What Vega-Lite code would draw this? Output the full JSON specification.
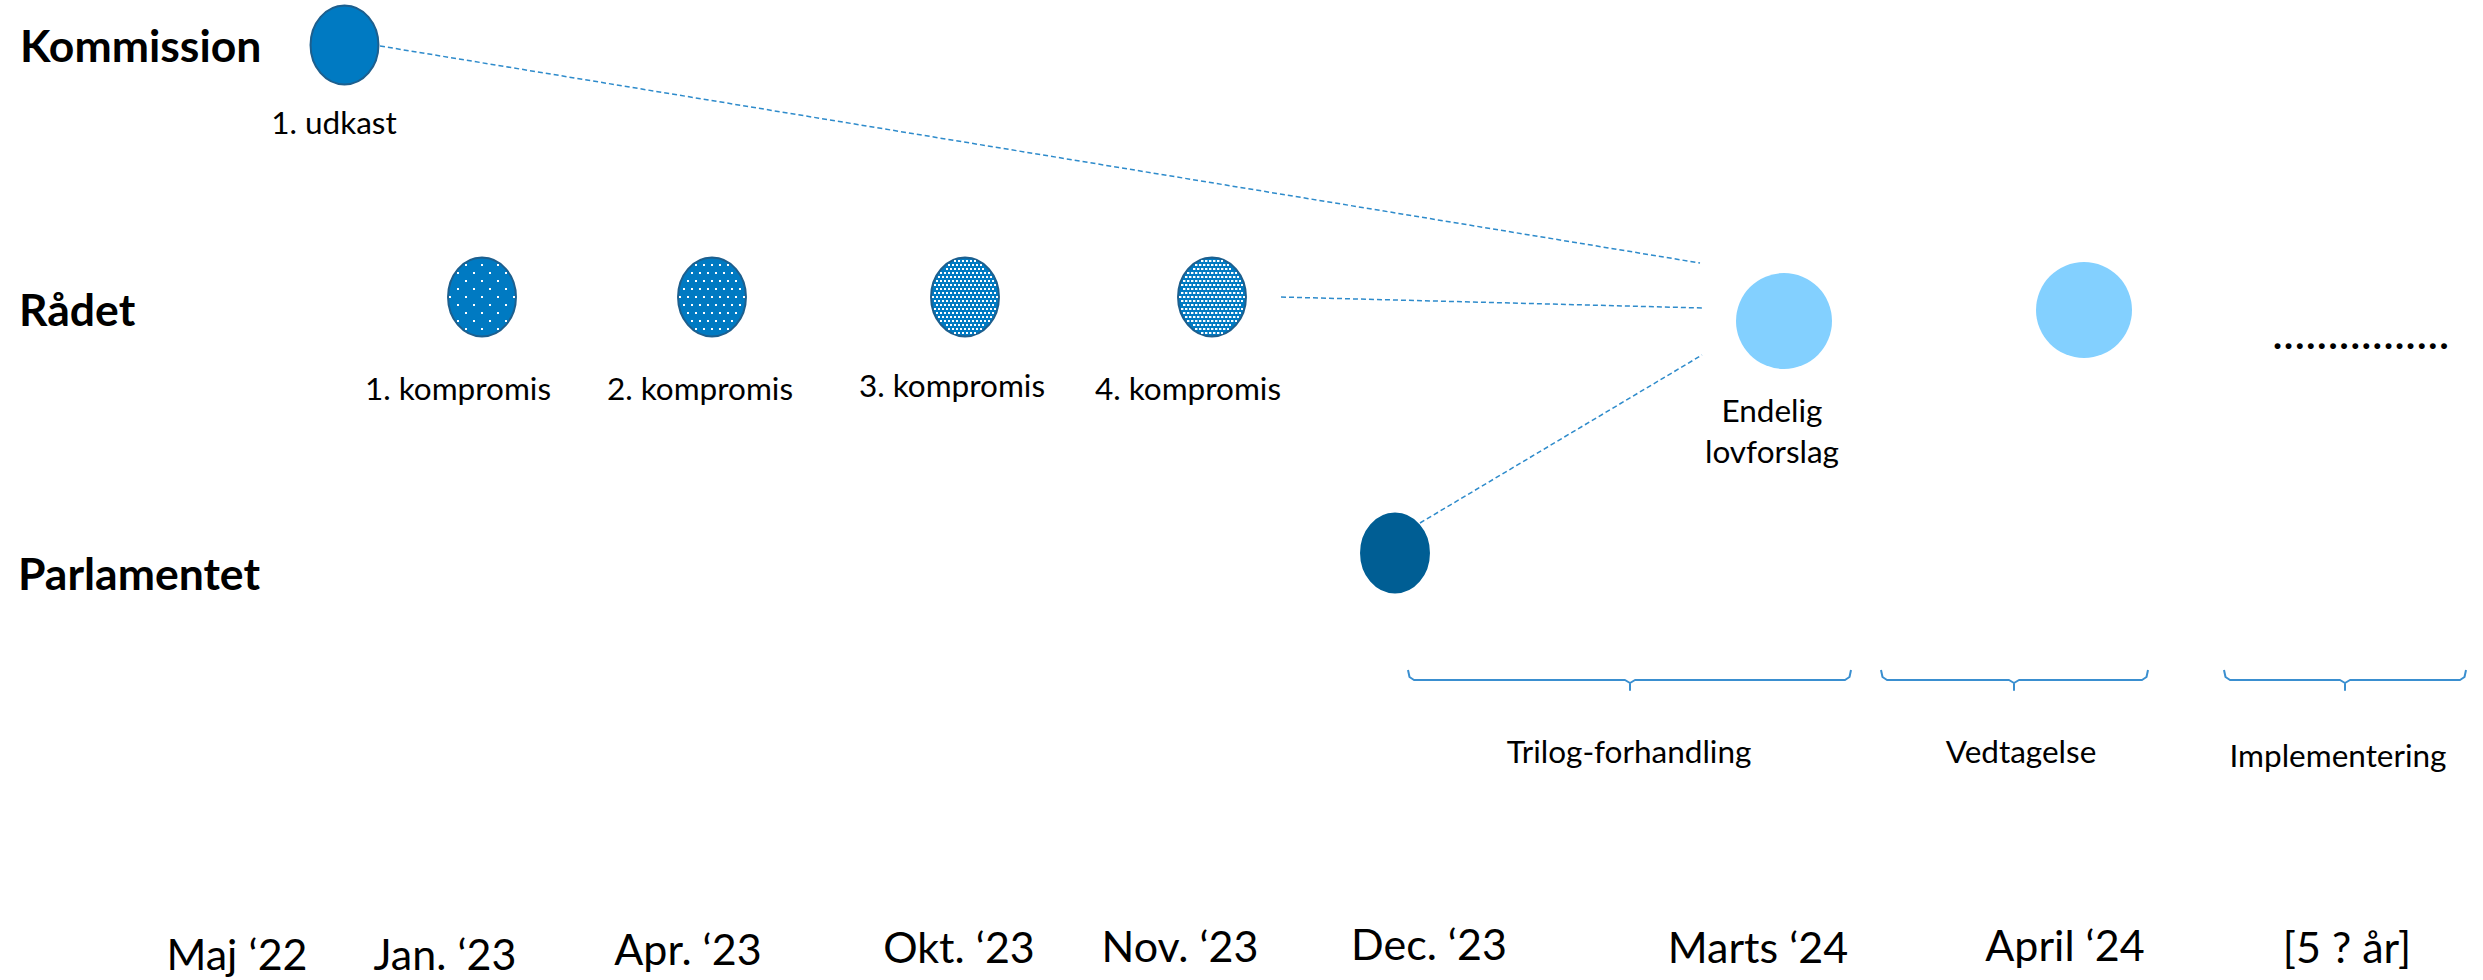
{
  "$schema": "https://vega.github.io/schema/vega-lite/v6.json",
  "width": 2483,
  "height": 980,
  "autosize": "none",
  "padding": 0,
  "background": "white",
  "config": {"view": {"stroke": null}},
  "layer": [
    {
      "data": {"values": [
        {"x": 380, "y": 46, "x2": 1700, "y2": 263},
        {"x": 1281, "y": 297, "x2": 1702, "y2": 308},
        {"x": 1420, "y": 523, "x2": 1702, "y2": 355}
      ]},
      "mark": {"type": "rule", "color": "#2E8BCB", "strokeWidth": 1.5, "strokeDash": [5, 3]},
      "encoding": {
        "x": {"field": "x", "type": "quantitative", "scale": {"domain": [0, 2483], "nice": false, "zero": false}, "axis": null},
        "y": {"field": "y", "type": "quantitative", "scale": {"domain": [0, 980], "nice": false, "zero": false, "reverse": true}, "axis": null},
        "x2": {"field": "x2"},
        "y2": {"field": "y2"}
      }
    },
    {
      "data": {"values": [
        {"b": 1, "i": 1, "x": 1408, "y": 670}, {"b": 1, "i": 2, "x": 1409.5, "y": 677}, {"b": 1, "i": 3, "x": 1414, "y": 680}, {"b": 1, "i": 4, "x": 1625, "y": 680}, {"b": 1, "i": 5, "x": 1630, "y": 683}, {"b": 1, "i": 6, "x": 1630, "y": 690}, {"b": 1, "i": 7, "x": 1630, "y": 683}, {"b": 1, "i": 8, "x": 1635, "y": 680}, {"b": 1, "i": 9, "x": 1845, "y": 680}, {"b": 1, "i": 10, "x": 1849.5, "y": 677}, {"b": 1, "i": 11, "x": 1851, "y": 670},
        {"b": 2, "i": 1, "x": 1881, "y": 670}, {"b": 2, "i": 2, "x": 1882.5, "y": 677}, {"b": 2, "i": 3, "x": 1887, "y": 680}, {"b": 2, "i": 4, "x": 2009, "y": 680}, {"b": 2, "i": 5, "x": 2014, "y": 683}, {"b": 2, "i": 6, "x": 2014, "y": 690}, {"b": 2, "i": 7, "x": 2014, "y": 683}, {"b": 2, "i": 8, "x": 2019, "y": 680}, {"b": 2, "i": 9, "x": 2142, "y": 680}, {"b": 2, "i": 10, "x": 2146.5, "y": 677}, {"b": 2, "i": 11, "x": 2148, "y": 670},
        {"b": 3, "i": 1, "x": 2224, "y": 670}, {"b": 3, "i": 2, "x": 2225.5, "y": 677}, {"b": 3, "i": 3, "x": 2230, "y": 680}, {"b": 3, "i": 4, "x": 2340, "y": 680}, {"b": 3, "i": 5, "x": 2345, "y": 683}, {"b": 3, "i": 6, "x": 2345, "y": 690}, {"b": 3, "i": 7, "x": 2345, "y": 683}, {"b": 3, "i": 8, "x": 2350, "y": 680}, {"b": 3, "i": 9, "x": 2460, "y": 680}, {"b": 3, "i": 10, "x": 2464.5, "y": 677}, {"b": 3, "i": 11, "x": 2466, "y": 670}
      ]},
      "mark": {"type": "line", "color": "#3A8FD0", "strokeWidth": 2, "strokeJoin": "round"},
      "encoding": {
        "x": {"field": "x", "type": "quantitative"},
        "y": {"field": "y", "type": "quantitative"},
        "detail": {"field": "b", "type": "nominal"},
        "order": {"field": "i", "type": "quantitative"}
      }
    },
    {
      "data": {"values": [
        {"id": "Kommission", "x": 344.5, "y": 45},
        {"id": "R1", "x": 482, "y": 297},
        {"id": "R2", "x": 712, "y": 297},
        {"id": "R3", "x": 965, "y": 297},
        {"id": "R4", "x": 1212, "y": 297},
        {"id": "Parlamentet", "x": 1395, "y": 553}
      ]},
      "mark": {"type": "point", "shape": "M -0.86 0 A 0.86 1 0 1 1 0.86 0 A 0.86 1 0 1 1 -0.86 0 Z", "size": 6241, "filled": true, "opacity": 1, "strokeWidth": 2},
      "encoding": {
        "x": {"field": "x", "type": "quantitative"},
        "y": {"field": "y", "type": "quantitative"},
        "fill": {"field": "id", "type": "nominal", "scale": {"domain": ["Kommission", "R1", "R2", "R3", "R4", "Parlamentet"], "range": ["#007AC2", "#007AC2", "#007AC2", "#007AC2", "#007AC2", "#005E94"]}, "legend": null},
        "stroke": {"field": "id", "type": "nominal", "scale": {"domain": ["Kommission", "R1", "R2", "R3", "R4", "Parlamentet"], "range": ["#1D5F8E", "#1D5F8E", "#1D5F8E", "#1D5F8E", "#1D5F8E", "#005E94"]}, "legend": null}
      }
    },
    {
      "data": {"values": [
        {"pattern": "p1", "x": 482, "y": 297},
        {"pattern": "p2", "x": 712, "y": 297},
        {"pattern": "p3", "x": 965, "y": 297},
        {"pattern": "p4", "x": 1212, "y": 297}
      ]},
      "mark": {"type": "point", "filled": false, "color": "white", "opacity": 1, "size": 6400},
      "encoding": {
        "x": {"field": "x", "type": "quantitative"},
        "y": {"field": "y", "type": "quantitative"},
        "shape": {"field": "pattern", "type": "nominal", "legend": null, "scale": {"domain": ["p1", "p2", "p3", "p4"], "range": [
          "M -0.825 0 L 0.825 0 M -0.625 -0.2 L 0.625 -0.2 M -0.625 0.2 L 0.625 0.2 M -0.425 -0.4 L 0.425 -0.4 M -0.425 0.4 L 0.425 0.4 M -0.625 -0.6 L 0.625 -0.6 M -0.625 0.6 L 0.625 0.6 M -0.425 -0.8 L 0.425 -0.8 M -0.425 0.8 L 0.425 0.8",
          "M -0.825 0 L 0.825 0 M -0.725 -0.2 L 0.725 -0.2 M -0.725 0.2 L 0.725 0.2 M -0.625 -0.4 L 0.625 -0.4 M -0.625 0.4 L 0.625 0.4 M -0.525 -0.6 L 0.525 -0.6 M -0.525 0.6 L 0.525 0.6 M -0.425 -0.8 L 0.425 -0.8 M -0.425 0.8 L 0.425 0.8",
          "M -0.825 0 L 0.825 0 M -0.775 -0.1 L 0.775 -0.1 M -0.775 0.1 L 0.775 0.1 M -0.725 -0.2 L 0.725 -0.2 M -0.725 0.2 L 0.725 0.2 M -0.775 -0.3 L 0.775 -0.3 M -0.775 0.3 L 0.775 0.3 M -0.725 -0.4 L 0.725 -0.4 M -0.725 0.4 L 0.725 0.4 M -0.675 -0.5 L 0.675 -0.5 M -0.675 0.5 L 0.675 0.5 M -0.625 -0.6 L 0.625 -0.6 M -0.625 0.6 L 0.625 0.6 M -0.475 -0.7 L 0.475 -0.7 M -0.475 0.7 L 0.475 0.7 M -0.425 -0.8 L 0.425 -0.8 M -0.425 0.8 L 0.425 0.8 M -0.275 -0.9 L 0.275 -0.9 M -0.275 0.9 L 0.275 0.9",
          "M -0.825 0 L 0.825 0 M -0.775 -0.1 L 0.775 -0.1 M -0.775 0.1 L 0.775 0.1 M -0.725 -0.2 L 0.725 -0.2 M -0.725 0.2 L 0.725 0.2 M -0.775 -0.3 L 0.775 -0.3 M -0.775 0.3 L 0.775 0.3 M -0.725 -0.4 L 0.725 -0.4 M -0.725 0.4 L 0.725 0.4 M -0.675 -0.5 L 0.675 -0.5 M -0.675 0.5 L 0.675 0.5 M -0.625 -0.6 L 0.625 -0.6 M -0.625 0.6 L 0.625 0.6 M -0.475 -0.7 L 0.475 -0.7 M -0.475 0.7 L 0.475 0.7 M -0.425 -0.8 L 0.425 -0.8 M -0.425 0.8 L 0.425 0.8 M -0.275 -0.9 L 0.275 -0.9 M -0.275 0.9 L 0.275 0.9"
        ]}},
        "strokeDash": {"field": "pattern", "type": "nominal", "legend": null, "scale": {"domain": ["p1", "p2", "p3", "p4"], "range": [[2, 14], [2, 6], [2, 2], [2.4, 1.6]]}},
        "strokeWidth": {"field": "pattern", "type": "ordinal", "legend": null, "scale": {"domain": ["p1", "p2", "p3", "p4"], "range": [2, 2, 2, 2.4]}}
      }
    },
    {
      "data": {"values": [
        {"id": "Endelig", "x": 1784, "y": 321},
        {"id": "April", "x": 2084, "y": 310}
      ]},
      "mark": {"type": "point", "shape": "circle", "size": 9216, "filled": true, "opacity": 1, "color": "#83D0FF"},
      "encoding": {
        "x": {"field": "x", "type": "quantitative"},
        "y": {"field": "y", "type": "quantitative"}
      }
    },
    {
      "data": {"values": [
        {"label": "Kommission", "x": 20, "y": 62},
        {"label": "Rådet", "x": 19, "y": 326},
        {"label": "Parlamentet", "x": 18, "y": 590}
      ]},
      "mark": {"type": "text", "font": "Lato", "fontSize": 44.5, "fontWeight": "bold", "align": "left", "baseline": "alphabetic", "color": "#000000"},
      "encoding": {
        "x": {"field": "x", "type": "quantitative"},
        "y": {"field": "y", "type": "quantitative"},
        "text": {"field": "label"}
      }
    },
    {
      "data": {"values": [
        {"label": "1. udkast", "x": 334, "y": 134},
        {"label": "1. kompromis", "x": 458, "y": 400},
        {"label": "2. kompromis", "x": 700, "y": 400},
        {"label": "3. kompromis", "x": 952, "y": 397},
        {"label": "4. kompromis", "x": 1188, "y": 400},
        {"label": "Endelig", "x": 1772, "y": 422},
        {"label": "lovforslag", "x": 1772, "y": 463},
        {"label": "Trilog-forhandling", "x": 1629, "y": 763},
        {"label": "Vedtagelse", "x": 2021, "y": 763},
        {"label": "Implementering", "x": 2338, "y": 767}
      ]},
      "mark": {"type": "text", "font": "Lato", "fontSize": 31.5, "align": "center", "baseline": "alphabetic", "color": "#000000"},
      "encoding": {
        "x": {"field": "x", "type": "quantitative"},
        "y": {"field": "y", "type": "quantitative"},
        "text": {"field": "label"}
      }
    },
    {
      "data": {"values": [
        {"label": "Maj ‘22", "x": 237, "y": 970},
        {"label": "Jan. ‘23", "x": 445, "y": 970},
        {"label": "Apr. ‘23", "x": 688, "y": 965},
        {"label": "Okt. ‘23", "x": 959, "y": 963},
        {"label": "Nov. ‘23", "x": 1180, "y": 962},
        {"label": "Dec. ‘23", "x": 1429, "y": 960},
        {"label": "Marts ‘24", "x": 1758, "y": 963},
        {"label": "April ‘24", "x": 2065, "y": 961},
        {"label": "[5 ?  år]", "x": 2347, "y": 963}
      ]},
      "mark": {"type": "text", "font": "Lato", "fontSize": 43, "align": "center", "baseline": "alphabetic", "color": "#000000"},
      "encoding": {
        "x": {"field": "x", "type": "quantitative"},
        "y": {"field": "y", "type": "quantitative"},
        "text": {"field": "label"}
      }
    },
    {
      "data": {"values": [
        {"label": "................", "x": 2272, "y": 349}
      ]},
      "mark": {"type": "text", "font": "Lato", "fontSize": 47, "align": "left", "baseline": "alphabetic", "color": "#000000"},
      "encoding": {
        "x": {"field": "x", "type": "quantitative"},
        "y": {"field": "y", "type": "quantitative"},
        "text": {"field": "label"}
      }
    }
  ]
}
